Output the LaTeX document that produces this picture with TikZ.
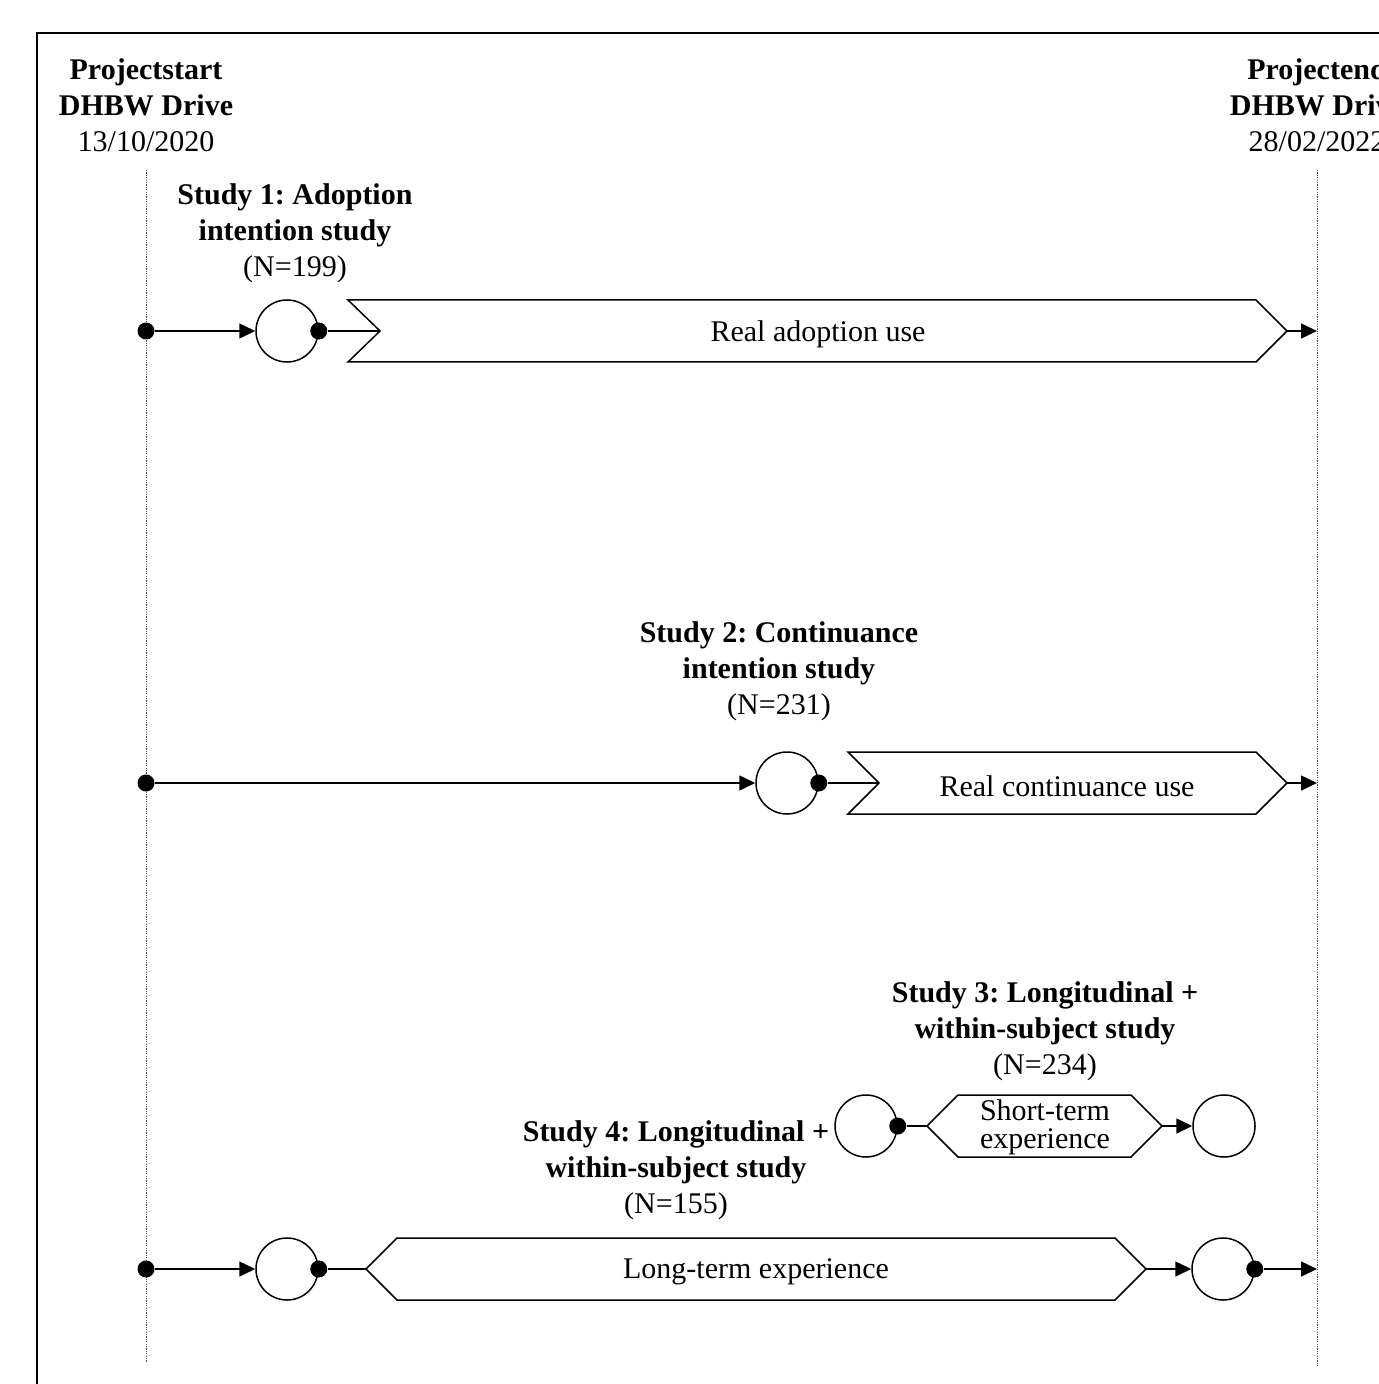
\documentclass[tikz,border=0pt]{standalone}
\usepackage{fontspec}
\setmainfont{Liberation Serif}
\usetikzlibrary{arrows.meta}
\frenchspacing
\begin{document}
\begin{tikzpicture}[x=0.5pt,y=-0.5pt,
  line width=0.75pt,
  lbl/.style={font=\fontsize{15}{18}\selectfont, align=center, inner sep=0pt},
  smalllbl/.style={font=\fontsize{15}{14}\selectfont, align=center, inner sep=0pt},
  stage/.style={draw, circle, minimum size=31pt, inner sep=0pt},
  dot/.style={circle, fill=black, inner sep=0pt, minimum size=8.5pt},
  arr/.style={-{Triangle[length=8pt,width=7.5pt]}},
  timeline/.style={line width=0.5pt, black!70, dash pattern=on 0.6pt off 0.6pt},
  shapeline/.style={draw, line width=0.75pt, line join=miter}
]
\useasboundingbox (0,0) rectangle (1378,1384);
% frame
\draw[line width=0.7pt] (37,33) rectangle (1450,1450);

% headers
\node[lbl] (hstart) at (146,105) {\textbf{Projectstart}\\\textbf{DHBW Drive}\\13/10/2020};
\node[lbl] (hend) at (1317,105) {\textbf{Projectend}\\\textbf{DHBW Drive}\\28/02/2022};

% timelines
\coordinate (tl1) at (146,170);
\coordinate (tl2) at (146,1362);
\coordinate (tr1) at (1317,170);
\coordinate (tr2) at (1317,1366);
\draw[timeline] (tl1) -- (tl2);
\draw[timeline] (tr1) -- (tr2);

% ---------- Row 1 ----------
\node[lbl] (t1) at (295,233) {\textbf{Study 1: Adoption}\\\textbf{intention study}\\(N=199)};
\node[dot] (d1) at (146,331) {};
\node[stage] (c1) at (287,331) {};
\node[dot] (e1) at (c1.east) {};
\coordinate (b1n) at (380,331);
\coordinate (b1p) at (1287,331);
\coordinate (r1) at (1317,331);
\draw[shapeline] (348,300) -- (1256,300) -- (b1p) -- (1256,362) -- (348,362) -- (b1n) -- cycle;
\node[lbl] (l1) at (818,334) {Real adoption use};
\draw[arr] (d1) -- (c1);
\draw (e1) -- (b1n);
\draw[arr] (b1p) -- (r1);

% ---------- Row 2 ----------
\node[lbl] (t2) at (779,671) {\textbf{Study 2: Continuance}\\\textbf{intention study}\\(N=231)};
\node[dot] (d2) at (146,783) {};
\node[stage] (c2) at (787,783) {};
\node[dot] (e2) at (c2.east) {};
\coordinate (b2n) at (879,783);
\coordinate (b2p) at (1287,783);
\coordinate (r2) at (1317,783);
\draw[shapeline] (848,752) -- (1256,752) -- (b2p) -- (1256,814) -- (848,814) -- (b2n) -- cycle;
\node[lbl] (l2) at (1067,786) {Real continuance use};
\draw[arr] (d2) -- (c2);
\draw (e2) -- (b2n);
\draw[arr] (b2p) -- (r2);

% ---------- Row 3 ----------
\node[lbl] (t3) at (1045,1031) {\textbf{Study 3: Longitudinal +}\\\textbf{within-subject study}\\(N=234)};
\node[stage] (c3a) at (866,1126) {};
\node[dot] (e3) at (c3a.east) {};
\coordinate (h3l) at (927,1126);
\coordinate (h3r) at (1162,1126);
\draw[shapeline] (h3l) -- (958,1095) -- (1131,1095) -- (h3r) -- (1131,1157) -- (958,1157) -- cycle;
\node[smalllbl] (l3) at (1045,1127) {Short-term\\experience};
\node[stage] (c3b) at (1224,1126) {};
\draw (e3) -- (h3l);
\draw[arr] (h3r) -- (c3b);

% ---------- Row 4 ----------
\node[lbl] (t4) at (676,1170) {\textbf{Study 4: Longitudinal +}\\\textbf{within-subject study}\\(N=155)};
\node[dot] (d4) at (146,1269) {};
\node[stage] (c4a) at (287,1269) {};
\node[dot] (e4a) at (c4a.east) {};
\coordinate (h4l) at (366,1269);
\coordinate (h4r) at (1146,1269);
\draw[shapeline] (h4l) -- (397,1238) -- (1115,1238) -- (h4r) -- (1115,1300) -- (397,1300) -- cycle;
\node[lbl] (l4) at (756,1272) {Long-term experience};
\node[stage] (c4b) at (1223,1269) {};
\node[dot] (e4b) at (c4b.east) {};
\coordinate (r4) at (1317,1269);
\draw[arr] (d4) -- (c4a);
\draw (e4a) -- (h4l);
\draw[arr] (h4r) -- (c4b);
\draw[arr] (e4b) -- (r4);
\end{tikzpicture}
\end{document}
